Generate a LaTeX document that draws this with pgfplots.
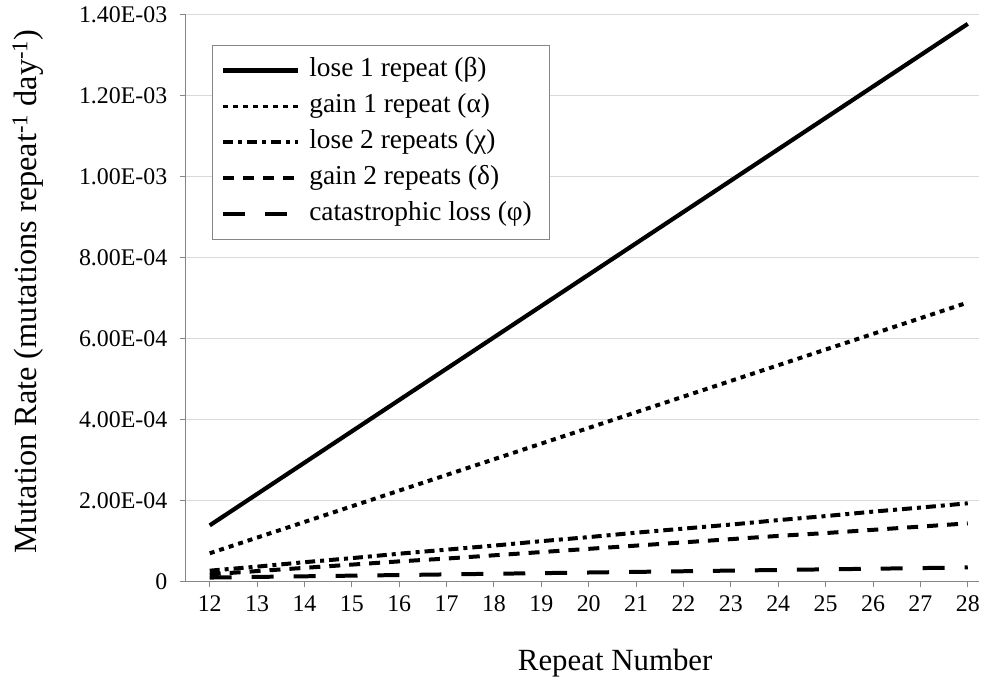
\documentclass[border=0pt]{standalone}
\usepackage{pgfplots}
\pgfplotsset{compat=1.18}
\usepackage{fontspec}
\setmainfont{Liberation Serif}
\usetikzlibrary{calc}
\definecolor{axgray}{HTML}{868686}
\definecolor{gridgray}{HTML}{D9D9D9}
\begin{document}
\begin{tikzpicture}
\begin{axis}[
  name=ax,
  scale only axis,
  width=794bp, height=567bp,
  xmin=11.494, xmax=28.23,
  ymin=0, ymax=1.4e-3,
  axis x line*=bottom, axis y line*=left,
  axis line style={axgray, line width=1bp, -},
  xtick={12,...,28},
  xticklabels={12,13,14,15,16,17,18,19,20,21,22,23,24,25,26,27,28},
  ytick={0,2e-4,4e-4,6e-4,8e-4,1e-3,1.2e-3,1.4e-3},
  yticklabels={0,2.00E-04,4.00E-04,6.00E-04,8.00E-04,1.00E-03,1.20E-03,1.40E-03},
  scaled y ticks=false,
  tick align=outside,
  major tick length=6bp,
  tick style={axgray, line width=1bp},
  ymajorgrids,
  grid style={gridgray, line width=1bp},
  ticklabel style={font=\fontsize{24}{28}\selectfont},
  xticklabel style={yshift=-5bp},
  yticklabel style={xshift=-9bp},
  xlabel={Repeat Number},
  ylabel={Mutation Rate (mutations repeat\textsuperscript{-1} day\textsuperscript{-1})},
  label style={font=\fontsize{31}{37}\selectfont},
  ylabel style={font=\fontsize{32.5}{38}\selectfont},
  xlabel style={at={(axis description cs:0.5416,0)}, anchor=center, yshift=-82bp},
  ylabel style={at={(axis description cs:-0.199,0.512)}, anchor=center},
  legend style={at={(rel axis cs:0.0327,0.947)}, anchor=north west,
    draw=axgray, line width=1.2bp, fill=white,
    inner xsep=9bp, inner ysep=7bp,
    font=\fontsize{27.5}{32}\selectfont,
    nodes={inner xsep=9bp, inner ysep=5.5bp, text height=18.5bp, text depth=6.5bp},
    cells={anchor=west}},
  legend image code/.code={\draw[#1] (0bp,0bp) -- (75bp,0bp);},
  legend cell align=left,
  clip=false,
]
\addplot[black, line width=4.2bp] coordinates {
(12,1.380e-4)(13,2.155e-4)(14,2.930e-4)(15,3.705e-4)(16,4.480e-4)(17,5.255e-4)
(18,6.030e-4)(19,6.805e-4)(20,7.580e-4)(21,8.355e-4)(22,9.130e-4)(23,9.905e-4)
(24,1.068e-3)(25,1.1455e-3)(26,1.223e-3)(27,1.3005e-3)(28,1.378e-3)};
\addlegendentry{lose 1 repeat (β)}
\addplot[black, line width=4bp, dash pattern=on 5bp off 5bp] coordinates {
(12,6.90e-5)(13,1.0775e-4)(14,1.465e-4)(15,1.8525e-4)(16,2.240e-4)(17,2.6275e-4)
(18,3.015e-4)(19,3.4025e-4)(20,3.790e-4)(21,4.1775e-4)(22,4.565e-4)(23,4.9525e-4)
(24,5.340e-4)(25,5.7275e-4)(26,6.115e-4)(27,6.5025e-4)(28,6.890e-4)};
\addlegendentry{gain 1 repeat (α)}
\addplot[black, line width=4bp, dash pattern=on 10bp off 5bp on 4bp off 5bp] coordinates {
(12,2.6e-5)(13,3.6e-5)(14,4.7e-5)(15,5.7e-5)(16,6.8e-5)(17,7.8e-5)
(18,8.8e-5)(19,9.9e-5)(20,1.09e-4)(21,1.20e-4)(22,1.30e-4)(23,1.40e-4)
(24,1.51e-4)(25,1.61e-4)(26,1.72e-4)(27,1.82e-4)(28,1.926e-4)};
\addlegendentry{lose 2 repeats (χ)}
\addplot[black, line width=4bp, dash pattern=on 11bp off 9bp] coordinates {
(12,1.7e-5)(13,2.5e-5)(14,3.3e-5)(15,4.1e-5)(16,4.9e-5)(17,5.6e-5)
(18,6.4e-5)(19,7.2e-5)(20,8.0e-5)(21,8.8e-5)(22,9.6e-5)(23,1.04e-4)
(24,1.12e-4)(25,1.19e-4)(26,1.27e-4)(27,1.35e-4)(28,1.43e-4)};
\addlegendentry{gain 2 repeats (δ)}
\addplot[black, line width=4bp, dash pattern=on 22bp off 20bp] coordinates {
(12,9.0e-6)(13,1.06e-5)(14,1.21e-5)(15,1.37e-5)(16,1.52e-5)(17,1.68e-5)
(18,1.84e-5)(19,1.99e-5)(20,2.15e-5)(21,2.30e-5)(22,2.46e-5)(23,2.62e-5)
(24,2.77e-5)(25,2.93e-5)(26,3.08e-5)(27,3.24e-5)(28,3.40e-5)};
\addlegendentry{catastrophic loss (φ)}
\end{axis}
\path ($(ax.south west)+(-186bp,-101bp)$) rectangle ($(ax.south west)+(797bp,582bp)$);
\end{tikzpicture}
\end{document}
